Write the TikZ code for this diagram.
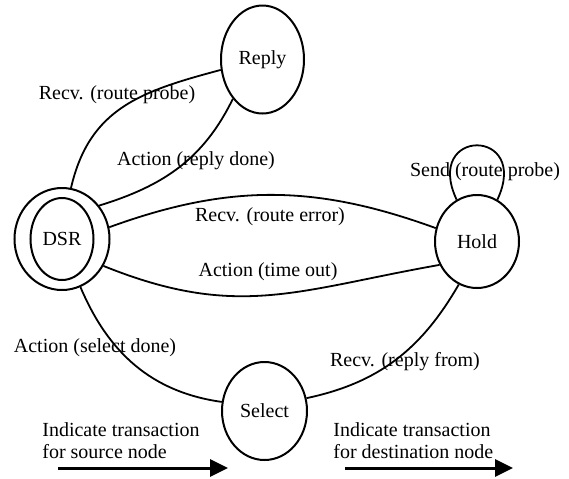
\documentclass[tikz,border=0pt]{standalone}
\usepackage{fontspec}
\setmainfont{Liberation Serif}
\usetikzlibrary{arrows.meta,shapes.geometric}

\begin{document}
\begin{tikzpicture}[x=0.5pt, y=-0.5pt,
  state/.style={draw, ellipse, line width=1pt, inner sep=0pt, font=\fontsize{10}{11}\selectfont},
  trans/.style={line width=0.9pt},
  lbl/.style={inner sep=0pt, font=\fontsize{10}{11}\selectfont},
  hint/.style={inner sep=0pt, align=left, anchor=west, font=\fontsize{10}{11}\selectfont},
  dirarrow/.style={line width=1.5pt, -{Triangle[length=9pt,width=8.5pt]}}]
  \useasboundingbox (0,0) rectangle (569,478);
  % states
  \node[state, minimum width=47.5pt, minimum height=51pt] (dsr) at (62,239) {};
  \node[state, minimum width=31.5pt, minimum height=41pt] (dsrin) at (62,239) {DSR};
  \node[state, minimum width=41.5pt, minimum height=54pt] (reply) at (262.5,59.5) {Reply};
  \node[state, minimum width=42pt, minimum height=46.5pt] (hold) at (477,241.5) {Hold};
  \node[state, minimum width=42.5pt, minimum height=49pt] (select) at (264.5,411) {Select};
  % transitions
  \draw[trans] (dsr.80) to[out=77, in=195, looseness=1.1] (reply.194);
  \draw[trans] (dsr.42) to[out=17, in=244] (reply.233);
  \draw[trans] (dsr.14) to[out=20, in=160] (hold.162);
  \draw[trans] (dsr.-33) to[out=-22, in=190, looseness=1.1] (hold.212);
  \draw[trans] (dsr.-69) to[out=-67, in=172] (select.168);
  \draw[trans] (hold.247) to[out=240, in=12] (select.17);
  \draw[trans] (hold.116) .. controls +(115:40pt) and +(65:40pt) .. (hold.64);
  % labels
  \node[lbl] (l1) at (117,95) {Recv. (route probe)};
  \node[lbl] (l2) at (196,161) {Action (reply done)};
  \node[lbl] (l3) at (270,217) {Recv. (route error)};
  \node[lbl] (l4) at (268,272) {Action (time out)};
  \node[lbl] (l5) at (95,348) {Action (select done)};
  \node[lbl] (l6) at (405,362) {Recv. (reply from)};
  \node[lbl] (l7) at (485,172) {Send (route probe)};
  % direction hints
  \node[hint] (srctxt) at (42,441) {Indicate transaction\\for source node};
  \node[hint] (dsttxt) at (333,441) {Indicate transaction\\for destination node};
  \coordinate (srcA) at (58,468);
  \coordinate (srcB) at (228,468);
  \coordinate (dstA) at (345,468);
  \coordinate (dstB) at (513,468);
  \draw[dirarrow] (srcA) -- (srcB);
  \draw[dirarrow] (dstA) -- (dstB);
\end{tikzpicture}
\end{document}
